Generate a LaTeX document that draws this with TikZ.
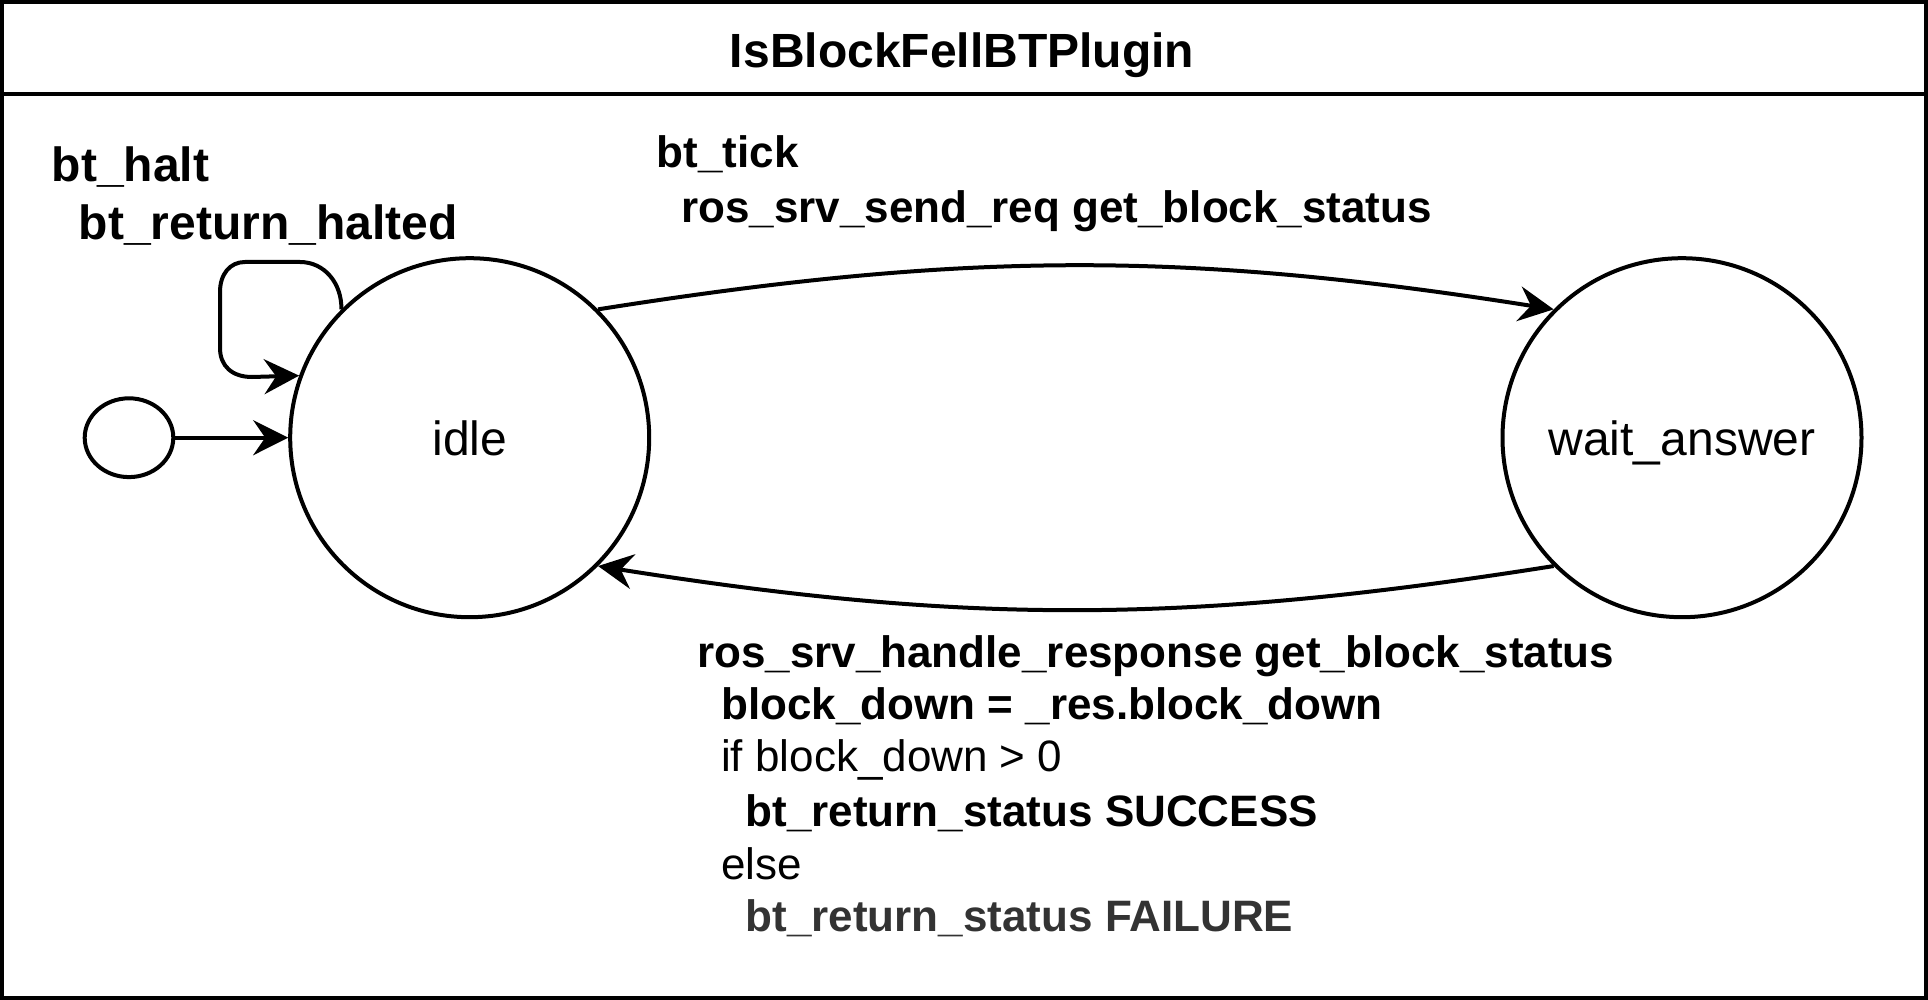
\documentclass[tikz,border=0pt]{standalone}
\usepackage{fontspec}
\setmainfont{Liberation Sans}
\usetikzlibrary{arrows.meta,shapes.geometric}
\newcommand{\bigfont}{\fontsize{48}{58}\selectfont}
\newcommand{\trfont}{\fontsize{44}{53}\selectfont}
\definecolor{failgray}{HTML}{333333}
\tikzset{
    state/.style={draw, circle, line width=4pt, minimum size=359pt, inner sep=0pt, text height=35pt, text depth=0pt, font=\bigfont},
    trans/.style={line width=4pt, -{Stealth[length=35pt,width=35pt,inset=12pt]}},
    lbl/.style={anchor=base west, inner sep=0pt, font=\bigfont\bfseries},
    trlbl/.style={lbl, font=\trfont\bfseries},
    plain/.style={lbl, font=\trfont}
}

\begin{document}
\begin{tikzpicture}[x=1pt, y=-1pt]
        \useasboundingbox (0,0) rectangle (1928,1000);
        \draw[line width=4pt] (2,2) rectangle (1926,998) (0,94)--(1928,94);
        \node (title) [lbl, anchor=base] at (962,67.5) {IsBlockFellBTPlugin};
        \node (init) [draw, ellipse, line width=4pt, minimum width=88.6pt, minimum height=78.8pt, inner sep=0pt] at (129,437.7) {};
        \node (idle) [state] at (469.7,437.7) {idle};
        \node (wait) [state] at (1682,437.7) {wait\_answer};
        \draw[trans] (init) -- (idle);
        \draw[trans] (idle.135) .. controls (342,284) and (325,262) .. (300,262) -- (245,262) .. controls (230,262) and (220,274) .. (220,292) -- (220,348) .. controls (220,366) and (232,377) .. (252,377) -- (idle.160);
        \draw[trans] (idle.45) to[bend left=9] (wait.135);
        \draw[trans] (wait.225) to[bend left=9] (idle.-45);
        \node (halt) [lbl] at (51.6,181.5) {bt\_halt};
        \node (halted) [lbl] at (78.7,240) {bt\_return\_halted};
        \node (tick) [trlbl] at (656.5,168) {bt\_tick};
        \node (req) [trlbl] at (681,223) {ros\_srv\_send\_req get\_block\_status};
        \node (resp) [trlbl] at (697,667.5) {ros\_srv\_handle\_response get\_block\_status};
        \node (assign) [trlbl] at (721,719) {block\_down = \_res.block\_down};
        \node (ifdown) [plain] at (721,771) {if block\_down > 0};
        \node (success) [trlbl] at (745.5,826) {bt\_return\_status SUCCESS};
        \node (else) [plain] at (721,879) {else};
        \node (failure) [trlbl, text=failgray] at (745.5,931) {bt\_return\_status FAILURE};
\end{tikzpicture}
\end{document}
